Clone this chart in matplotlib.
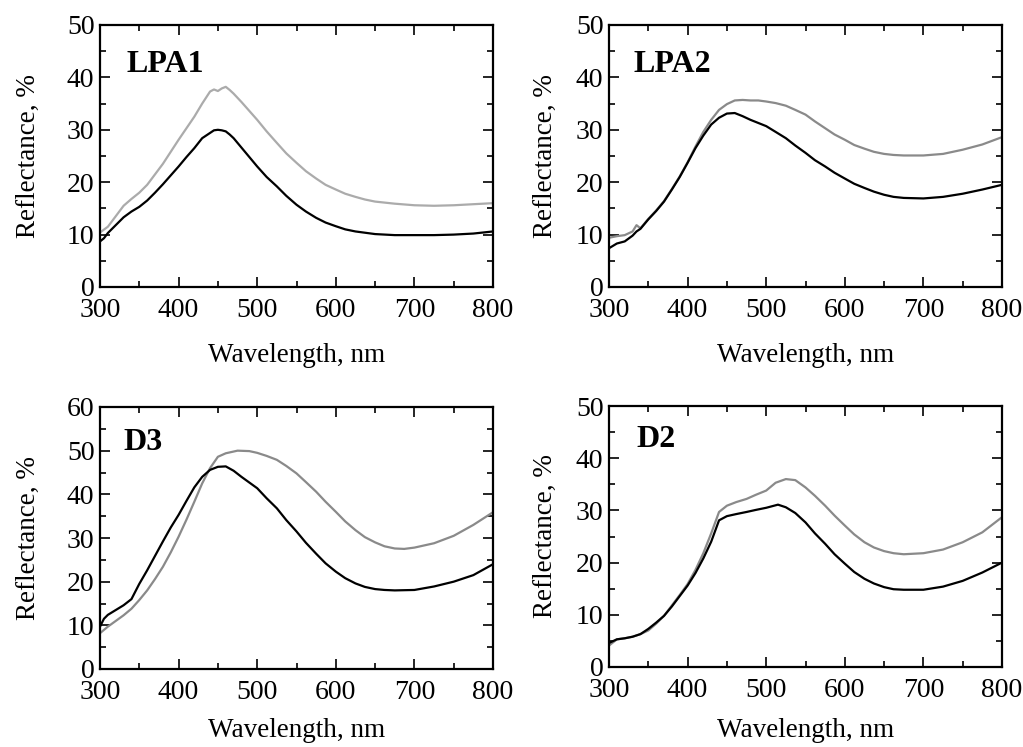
import matplotlib
matplotlib.use("Agg")
import matplotlib.pyplot as plt
from matplotlib.ticker import MultipleLocator

plt.rcParams['font.family'] = ['Liberation Serif', 'DejaVu Serif']

# LPA1
lpa1_gray_wl = [300, 310, 320, 330, 340, 350, 360, 370, 380, 390, 400, 410, 420, 430, 440, 445, 450, 455, 460, 465, 470, 480, 490, 500, 512, 525, 537, 550, 562, 575, 587, 600, 612, 625, 637, 650, 675, 700, 725, 750, 775, 800]
lpa1_gray = [10.4, 11.5, 13.5, 15.5, 16.8, 18.0, 19.5, 21.5, 23.5, 25.8, 28.1, 30.3, 32.5, 35.0, 37.3, 37.7, 37.4, 37.9, 38.2, 37.6, 36.9, 35.3, 33.6, 31.9, 29.7, 27.5, 25.5, 23.7, 22.1, 20.7, 19.5, 18.6, 17.8, 17.2, 16.7, 16.3, 15.9, 15.6, 15.5, 15.6, 15.8, 16.0]
lpa1_black_wl = [300, 305, 310, 320, 330, 340, 350, 360, 370, 380, 390, 400, 410, 420, 430, 440, 445, 450, 455, 460, 465, 470, 480, 490, 500, 512, 525, 537, 550, 562, 575, 587, 600, 612, 625, 650, 675, 700, 725, 750, 775, 800]
lpa1_black = [8.7, 9.3, 10.3, 11.8, 13.3, 14.4, 15.3, 16.5, 18.0, 19.6, 21.3, 23.0, 24.8, 26.5, 28.4, 29.4, 29.9, 30.0, 29.9, 29.7, 29.1, 28.4, 26.6, 24.8, 23.0, 21.0, 19.2, 17.4, 15.7, 14.4, 13.2, 12.3, 11.6, 11.0, 10.6, 10.1, 9.9, 9.9, 9.9, 10.0, 10.2, 10.6]

# LPA2
lpa2_wl = [300, 310, 320, 330, 335, 340, 350, 360, 370, 380, 390, 400, 410, 420, 430, 440, 450, 460, 470, 480, 490, 500, 512, 525, 537, 550, 562, 575, 587, 600, 612, 625, 637, 650, 662, 675, 700, 725, 750, 775, 800]
lpa2_black = [7.4, 8.3, 8.7, 9.8, 10.6, 11.1, 12.9, 14.5, 16.3, 18.6, 21.0, 23.7, 26.5, 28.9, 31.0, 32.3, 33.1, 33.2, 32.6, 31.9, 31.3, 30.7, 29.6, 28.4, 27.0, 25.6, 24.2, 23.0, 21.8, 20.7, 19.7, 18.9, 18.2, 17.6, 17.2, 17.0, 16.9, 17.2, 17.8, 18.6, 19.5]
lpa2_gray = [9.4, 9.7, 9.9, 10.6, 11.8, 11.2, 13.0, 14.6, 16.4, 18.7, 21.1, 23.8, 26.8, 29.6, 31.9, 33.8, 34.9, 35.6, 35.7, 35.6, 35.6, 35.4, 35.1, 34.6, 33.8, 32.9, 31.6, 30.3, 29.1, 28.1, 27.1, 26.4, 25.8, 25.4, 25.2, 25.1, 25.1, 25.4, 26.2, 27.2, 28.6]

# D3
d3_black_wl = [300, 305, 310, 320, 330, 340, 350, 360, 370, 380, 390, 400, 410, 420, 430, 440, 450, 460, 470, 480, 490, 500, 512, 525, 537, 550, 562, 575, 587, 600, 612, 625, 637, 650, 662, 675, 700, 725, 750, 775, 800]
d3_black = [9.7, 11.5, 12.4, 13.5, 14.6, 16.0, 19.5, 22.6, 25.9, 29.2, 32.4, 35.3, 38.5, 41.6, 44.0, 45.6, 46.3, 46.4, 45.4, 44.0, 42.7, 41.4, 39.1, 36.8, 34.1, 31.5, 28.9, 26.4, 24.2, 22.3, 20.8, 19.6, 18.8, 18.3, 18.1, 18.0, 18.1, 18.9, 20.0, 21.5, 24.0]
d3_gray_wl = [300, 310, 320, 330, 340, 350, 360, 370, 380, 390, 400, 410, 420, 430, 440, 450, 460, 475, 490, 500, 512, 525, 537, 550, 562, 575, 587, 600, 612, 625, 637, 650, 662, 675, 687, 700, 725, 750, 775, 800]
d3_gray = [8.2, 9.7, 11.0, 12.3, 13.8, 15.8, 18.0, 20.6, 23.4, 26.7, 30.3, 34.2, 38.3, 42.5, 46.0, 48.6, 49.4, 50.0, 49.9, 49.5, 48.8, 47.9, 46.5, 44.8, 42.8, 40.6, 38.3, 36.0, 33.8, 31.8, 30.2, 29.0, 28.1, 27.6, 27.5, 27.8, 28.8, 30.5, 33.0, 35.9]

# D2
d2_black_wl = [300, 310, 320, 330, 340, 350, 360, 370, 380, 390, 400, 410, 420, 430, 440, 450, 462, 475, 487, 500, 515, 525, 537, 550, 562, 575, 587, 600, 612, 625, 637, 650, 662, 675, 700, 725, 750, 775, 800]
d2_black = [4.6, 5.3, 5.5, 5.8, 6.3, 7.3, 8.5, 9.8, 11.6, 13.6, 15.6, 18.0, 20.8, 24.0, 28.1, 28.9, 29.3, 29.7, 30.1, 30.5, 31.1, 30.6, 29.5, 27.7, 25.6, 23.6, 21.6, 19.8, 18.2, 16.9, 16.0, 15.3, 14.9, 14.8, 14.8, 15.4, 16.5, 18.1, 20.0]
d2_gray_wl = [300, 310, 320, 330, 340, 350, 360, 370, 380, 390, 400, 410, 420, 430, 440, 450, 462, 475, 487, 500, 512, 525, 537, 550, 562, 575, 587, 600, 612, 625, 637, 650, 662, 675, 700, 725, 750, 775, 800]
d2_gray = [4.1, 5.3, 5.5, 5.8, 6.3, 7.0, 8.3, 9.8, 11.8, 13.8, 15.9, 18.6, 21.8, 25.6, 29.7, 30.9, 31.6, 32.2, 33.0, 33.8, 35.3, 36.0, 35.8, 34.4, 32.8, 30.9, 29.0, 27.1, 25.4, 23.9, 22.9, 22.2, 21.8, 21.6, 21.8, 22.5, 23.9, 25.8, 28.7]

panels = [
    ("LPA1", lpa1_black_wl, lpa1_black, lpa1_gray_wl, lpa1_gray, 50, "#ababab"),
    ("LPA2", lpa2_wl, lpa2_black, lpa2_wl, lpa2_gray, 50, "#8a8a8a"),
    ("D3", d3_black_wl, d3_black, d3_gray_wl, d3_gray, 60, "#8a8a8a"),
    ("D2", d2_black_wl, d2_black, d2_gray_wl, d2_gray, 50, "#8a8a8a"),
]

W, H = 1023, 747
boxes = [(100, 287, 393, 262), (609, 287, 393, 262), (100, 669, 393, 262), (609, 667, 393, 261)]
label_pos = [(0.068, 0.85), (0.063, 0.85), (0.06, 0.866), (0.07, 0.87)]
ylabelpads = [19, 13, 19, 13]
xlabel_top = [343, 343, 718, 718]   # pixel row of the x-label box top

fig = plt.figure(figsize=(W / 100, H / 100), dpi=100)

for (name, wlb, black, wlg, gray, ymax, gcol), (x0, yb, w, h), (lx, ly), ypad, xt in zip(
        panels, boxes, label_pos, ylabelpads, xlabel_top):
    ax = fig.add_axes([x0 / W, (H - yb) / H, w / W, h / H])
    ax.plot(wlg, gray, color=gcol, lw=1.6)
    ax.plot(wlb, black, color="black", lw=1.6)
    ax.set_xlim(300, 800)
    ax.set_ylim(0, ymax)
    ax.xaxis.set_major_locator(MultipleLocator(100))
    ax.xaxis.set_minor_locator(MultipleLocator(50))
    ax.yaxis.set_major_locator(MultipleLocator(10))
    ax.yaxis.set_minor_locator(MultipleLocator(5))
    ax.tick_params(which="both", direction="in", top=True, right=True, width=1.2,
                   labelsize=20)
    ax.tick_params(which="major", length=7.5)
    ax.tick_params(which="minor", length=4.5)
    ax.tick_params(axis="x", pad=8)
    ax.tick_params(axis="y", pad=4)
    for s in ax.spines.values():
        s.set_linewidth(1.6)
    ax.set_xlabel("Wavelength, nm", fontsize=19.5)
    ax.xaxis.set_label_coords(0.5, (yb - xt) / h)
    ax.set_ylabel("Reflectance, %", fontsize=19.5, labelpad=ypad)
    ax.text(lx, ly, name, transform=ax.transAxes, fontsize=23, fontweight="bold",
            ha="left", va="center")

plt.savefig("out.png", dpi=100)
